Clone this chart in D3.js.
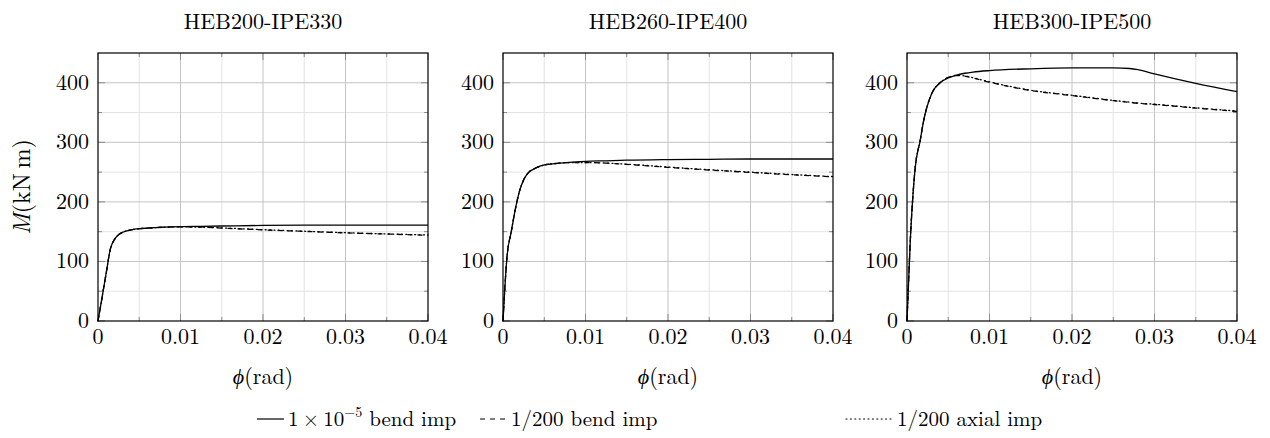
<!DOCTYPE html>
<html>
<head>
<meta charset="utf-8">
<script src="https://cdn.jsdelivr.net/npm/d3@7"></script>
<style>
  body { margin: 0; background: #fff; }
  svg text { font-family: "Latin Modern Roman", "CMU Serif", "Liberation Serif", serif; fill: #000; }
</style>
</head>
<body>
<svg id="chart" width="1270" height="438"></svg>
<script>
// panel titles
const titles = ['HEB200-IPE330', 'HEB260-IPE400', 'HEB300-IPE500'];

// x ticks / y ticks
const xTicks = [0, 0.01, 0.02, 0.03, 0.04];
const yTicks = [0, 100, 200, 300, 400];

// HEB200-IPE330
const phi1 = [0, 0.0005, 0.001, 0.0015, 0.002, 0.0025, 0.003, 0.004, 0.005, 0.006, 0.008, 0.01, 0.0125, 0.015, 0.02, 0.025, 0.03, 0.035, 0.04];
const bend1 = [0, 40, 81, 121, 137, 145, 149, 153, 155, 156, 157.5, 158.5, 159, 159.5, 160.5, 161, 161, 161, 161];
const bendImp1 = [0, 40, 81, 121, 137, 145, 149, 153, 155, 156, 157.5, 158, 157.5, 156, 153, 150.5, 148, 146, 144];
const axialImp1 = [0, 40, 81, 121, 137, 145, 149, 153, 155, 156, 157.5, 158, 157.6, 156.3, 153.4, 150.7, 148.3, 146.2, 144.4];

// HEB260-IPE400
const phi2 = [0, 0.0005, 0.001, 0.0015, 0.002, 0.0025, 0.003, 0.004, 0.005, 0.006, 0.008, 0.01, 0.0125, 0.015, 0.02, 0.025, 0.03, 0.035, 0.04];
const bend2 = [0, 110, 150, 188, 218, 237, 248, 257, 262, 264, 266.5, 268, 269, 270, 271, 271.5, 272, 272, 272];
const bendImp2 = [0, 110, 150, 188, 218, 237, 248, 257, 262, 264, 266, 266, 265, 263, 258, 253.5, 249.5, 245.5, 242];
const axialImp2 = [0, 110, 150, 188, 218, 237, 248, 257, 262, 264, 266, 266, 265.2, 263.4, 258.5, 254, 250, 246, 242.5];

// HEB300-IPE500
const phi3 = [0, 0.0004, 0.001, 0.0016, 0.002, 0.003, 0.004, 0.005, 0.006, 0.007, 0.008, 0.01, 0.015, 0.02, 0.025, 0.027, 0.028, 0.03, 0.035, 0.04];
const bend3 = [0, 135, 258, 303, 335, 382, 400, 408, 413, 416, 418, 420.5, 423.5, 425, 425, 424, 422, 415, 399, 385];
const bendImp3 = [0, 135, 258, 303, 335, 382, 400, 409, 412, 411, 408, 401, 387, 378.5, 370, 367, 365.5, 363.5, 357.5, 352];
const axialImp3 = [0, 135, 258, 303, 335, 382, 400, 409, 412.5, 411.5, 408.5, 401.5, 387.5, 379, 370.5, 367.5, 366, 364, 358, 352.5];

const panels = [
  { title: titles[0], phi: phi1, series: [bend1, bendImp1, axialImp1] },
  { title: titles[1], phi: phi2, series: [bend2, bendImp2, axialImp2] },
  { title: titles[2], phi: phi3, series: [bend3, bendImp3, axialImp3] }
];

const seriesStyle = [
  { dash: null },
  { dash: '5,5' },
  { dash: '1,3.4', cap: 'round' }
];

const svg = d3.select('#chart');
const fontSize = 22;

const panelLeft = [98, 503, 907];
const panelW = 330;
const plotTop = 53, plotBottom = 321;

const y = d3.scaleLinear().domain([0, 450]).range([plotBottom, plotTop]);

panels.forEach((p, i) => {
  const x = d3.scaleLinear().domain([0, 0.04]).range([panelLeft[i], panelLeft[i] + panelW]);
  const g = svg.append('g');

  // minor grid
  const xMinor = d3.range(0.005, 0.04, 0.01);
  const yMinor = d3.range(50, 450, 100);
  g.selectAll('.xminor').data(xMinor).enter().append('line')
    .attr('x1', d => x(d)).attr('x2', d => x(d)).attr('y1', plotTop).attr('y2', plotBottom)
    .attr('stroke', '#e3e3e3').attr('stroke-width', 1);
  g.selectAll('.yminor').data(yMinor).enter().append('line')
    .attr('x1', x(0)).attr('x2', x(0.04)).attr('y1', d => y(d)).attr('y2', d => y(d))
    .attr('stroke', '#e3e3e3').attr('stroke-width', 1);
  // major grid
  g.selectAll('.xmajor').data(xTicks.slice(1, -1)).enter().append('line')
    .attr('x1', d => x(d)).attr('x2', d => x(d)).attr('y1', plotTop).attr('y2', plotBottom)
    .attr('stroke', '#c4c4c4').attr('stroke-width', 1);
  g.selectAll('.ymajor').data(yTicks.slice(1)).enter().append('line')
    .attr('x1', x(0)).attr('x2', x(0.04)).attr('y1', d => y(d)).attr('y2', d => y(d))
    .attr('stroke', '#c4c4c4').attr('stroke-width', 1);

  // inward ticks on all four sides
  const tickCol = '#8a8a8a';
  const tk = (vals, len, horiz) => {
    vals.forEach(v => {
      if (horiz) {
        g.append('line').attr('x1', x(v)).attr('x2', x(v)).attr('y1', plotBottom).attr('y2', plotBottom - len).attr('stroke', tickCol);
        g.append('line').attr('x1', x(v)).attr('x2', x(v)).attr('y1', plotTop).attr('y2', plotTop + len).attr('stroke', tickCol);
      } else {
        g.append('line').attr('x1', x(0)).attr('x2', x(0) + len).attr('y1', y(v)).attr('y2', y(v)).attr('stroke', tickCol);
        g.append('line').attr('x1', x(0.04)).attr('x2', x(0.04) - len).attr('y1', y(v)).attr('y2', y(v)).attr('stroke', tickCol);
      }
    });
  };
  tk(xTicks, 7, true);
  tk(xMinor, 4, true);
  tk(yTicks, 7, false);
  tk(yMinor, 4, false);

  // curves
  const line = d3.line().x(d => x(d[0])).y(d => y(d[1])).curve(d3.curveMonotoneX);
  p.series.forEach((s, k) => {
    const pts = p.phi.map((ph, j) => [ph, s[j]]);
    g.append('path').datum(pts)
      .attr('d', line)
      .attr('fill', 'none')
      .attr('stroke', '#000')
      .attr('stroke-width', 1.3)
      .attr('stroke-dasharray', seriesStyle[k].dash)
      .attr('stroke-linecap', seriesStyle[k].cap || 'butt');
  });

  // frame
  g.append('rect')
    .attr('x', x(0)).attr('y', plotTop)
    .attr('width', panelW).attr('height', plotBottom - plotTop)
    .attr('fill', 'none').attr('stroke', '#000').attr('stroke-width', 1.2);

  // tick labels
  g.selectAll('.xl').data(xTicks).enter().append('text')
    .attr('x', d => x(d)).attr('y', 344)
    .attr('text-anchor', 'middle').attr('font-size', fontSize)
    .text(d => d === 0 ? '0' : d3.format('.2f')(d));
  g.selectAll('.yl').data(yTicks).enter().append('text')
    .attr('x', x(0) - 9).attr('y', d => y(d) + 7)
    .attr('text-anchor', 'end').attr('font-size', fontSize)
    .text(d => d);

  // title
  g.append('text')
    .attr('x', x(0.02)).attr('y', 29)
    .attr('text-anchor', 'middle').attr('font-size', fontSize)
    .text(p.title);

  // x label
  const xl = g.append('text')
    .attr('x', x(0.02)).attr('y', 384)
    .attr('text-anchor', 'middle').attr('font-size', fontSize);
  xl.append('tspan').attr('font-style', 'italic').text('\u03d5');
  xl.append('tspan').text('(rad)');
});

// y label
const yl = svg.append('text')
  .attr('transform', 'translate(30,' + ((plotTop + plotBottom) / 2) + ') rotate(-90)')
  .attr('text-anchor', 'middle').attr('font-size', 24);
yl.append('tspan').attr('font-style', 'italic').text('M');
yl.append('tspan').text('(kN\u2009m)');

// legend
const legY = 419;
const legFont = 21;
const legend = [
  { x1: 257, x2: 284, tx: 288, dash: null },
  { x1: 480, x2: 506, tx: 511, dash: '5,5' },
  { x1: 846, x2: 893, tx: 897, dash: '1,3.4', cap: 'round' }
];
legend.forEach((l, k) => {
  svg.append('line')
    .attr('x1', l.x1).attr('x2', l.x2).attr('y1', legY).attr('y2', legY)
    .attr('stroke', '#000').attr('stroke-width', 1.2)
    .attr('stroke-dasharray', l.dash).attr('stroke-linecap', l.cap || 'butt');
  const t = svg.append('text').attr('x', l.tx).attr('y', legY + 7).attr('font-size', legFont);
  if (k === 0) {
    t.append('tspan').text('1\u2009\u00d7\u200910');
    t.append('tspan').attr('font-size', 14).attr('dy', -9).text('\u22125');
    t.append('tspan').attr('dy', 9).text(' bend imp');
  } else if (k === 1) {
    t.text('1/200 bend imp');
  } else {
    t.text('1/200 axial imp');
  }
});
</script>
</body>
</html>
